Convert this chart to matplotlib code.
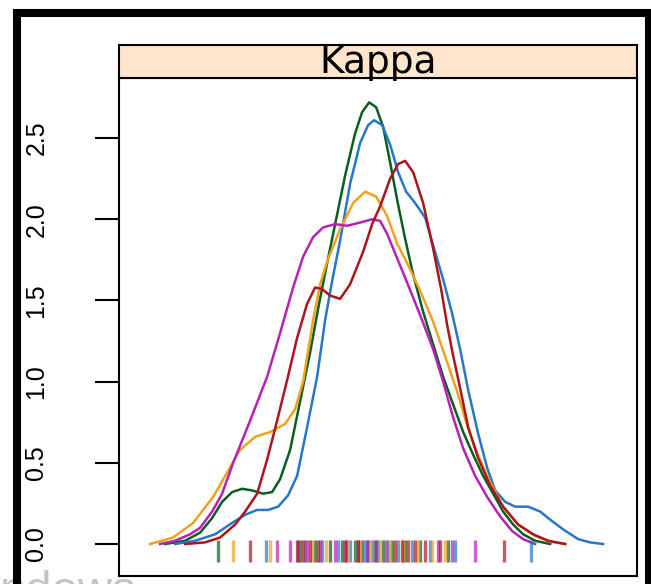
import matplotlib
matplotlib.use("Agg")
import matplotlib.pyplot as plt
from matplotlib.patches import Rectangle

plt.rcParams["font.family"] = ["Liberation Sans", "DejaVu Sans"]

# density curves (kappa, density)
green_x = [0.165, 0.185, 0.200, 0.212, 0.222, 0.232, 0.242, 0.252, 0.263, 0.272,
           0.280, 0.290, 0.300, 0.310, 0.318, 0.326, 0.335, 0.345, 0.355, 0.362,
           0.369, 0.376, 0.383, 0.390, 0.397, 0.405, 0.413, 0.423, 0.433, 0.443,
           0.453, 0.463, 0.473, 0.483, 0.493, 0.503, 0.513, 0.523, 0.535, 0.550]
green_y = [0.0, 0.02, 0.07, 0.16, 0.26, 0.32, 0.34, 0.33, 0.31, 0.32,
           0.40, 0.58, 0.88, 1.18, 1.45, 1.70, 1.97, 2.27, 2.53, 2.66,
           2.72, 2.69, 2.57, 2.35, 2.12, 1.88, 1.66, 1.43, 1.23, 1.03,
           0.86, 0.69, 0.55, 0.42, 0.31, 0.20, 0.12, 0.06, 0.02, 0.0]

blue_x = [0.175, 0.195, 0.215, 0.232, 0.245, 0.257, 0.268, 0.278, 0.288, 0.297,
          0.307, 0.317, 0.325, 0.332, 0.340, 0.350, 0.360, 0.368, 0.374, 0.382,
          0.390, 0.398, 0.406, 0.415, 0.425, 0.433, 0.443, 0.452, 0.460, 0.468,
          0.478, 0.487, 0.495, 0.505, 0.515, 0.528, 0.540, 0.550, 0.563, 0.578,
          0.590, 0.603]
blue_y = [0.0, 0.02, 0.06, 0.13, 0.18, 0.21, 0.21, 0.23, 0.30, 0.42,
          0.72, 1.03, 1.38, 1.62, 1.87, 2.22, 2.47, 2.58, 2.61, 2.58,
          2.46, 2.29, 2.17, 2.10, 2.01, 1.84, 1.63, 1.42, 1.20, 0.95,
          0.68, 0.47, 0.33, 0.26, 0.23, 0.23, 0.20, 0.15, 0.09, 0.03,
          0.01, 0.0]

red_x = [0.185, 0.205, 0.220, 0.235, 0.245, 0.257, 0.267, 0.277, 0.287, 0.297,
         0.307, 0.315, 0.322, 0.330, 0.340, 0.350, 0.363, 0.372, 0.380, 0.390,
         0.398, 0.405, 0.413, 0.423, 0.433, 0.441, 0.447, 0.453, 0.460, 0.468,
         0.478, 0.490, 0.503, 0.518, 0.533, 0.548, 0.565]
red_y = [0.0, 0.01, 0.04, 0.12, 0.20, 0.31, 0.52, 0.76, 1.01, 1.27,
         1.48, 1.58, 1.57, 1.53, 1.51, 1.60, 1.80, 1.97, 2.08, 2.25,
         2.34, 2.36, 2.29, 2.10, 1.82, 1.57, 1.35, 1.16, 0.96, 0.72,
         0.53, 0.36, 0.23, 0.12, 0.06, 0.02, 0.0]

orange_x = [0.150, 0.173, 0.193, 0.213, 0.227, 0.240, 0.255, 0.270, 0.285, 0.295,
            0.303, 0.313, 0.320, 0.327, 0.340, 0.353, 0.365, 0.376, 0.387, 0.397,
            0.407, 0.420, 0.433, 0.447, 0.457, 0.467, 0.477, 0.490, 0.503, 0.518,
            0.535, 0.550, 0.565]
orange_y = [0.0, 0.04, 0.13, 0.29, 0.44, 0.58, 0.66, 0.69, 0.74, 0.83,
            1.00, 1.38, 1.60, 1.74, 1.94, 2.10, 2.17, 2.14, 2.02, 1.85,
            1.73, 1.56, 1.37, 1.12, 0.94, 0.73, 0.56, 0.38, 0.23, 0.12,
            0.05, 0.015, 0.0]

magenta_x = [0.160, 0.175, 0.190, 0.200, 0.212, 0.222, 0.233, 0.250, 0.267, 0.280,
             0.293, 0.303, 0.313, 0.323, 0.335, 0.347, 0.360, 0.372, 0.380, 0.387,
             0.395, 0.407, 0.420, 0.433, 0.443, 0.453, 0.463, 0.475, 0.487, 0.500,
             0.512, 0.523, 0.535]
magenta_y = [0.0, 0.02, 0.06, 0.10, 0.20, 0.31, 0.50, 0.76, 1.03, 1.30,
             1.58, 1.77, 1.89, 1.95, 1.97, 1.96, 1.98, 2.00, 1.99, 1.91,
             1.79, 1.61, 1.41, 1.20, 1.00, 0.78, 0.59, 0.42, 0.29, 0.17,
             0.08, 0.03, 0.0]

# observed kappa values (rug marks)
green_rug = [0.218, 0.300, 0.315, 0.330, 0.342, 0.355, 0.362, 0.368, 0.375,
             0.383, 0.392, 0.405, 0.420, 0.448]
blue_rug = [0.266, 0.305, 0.322, 0.338, 0.350, 0.365, 0.372, 0.378, 0.388,
            0.398, 0.412, 0.430, 0.455, 0.531]
red_rug = [0.250, 0.297, 0.303, 0.310, 0.318, 0.345, 0.358, 0.395, 0.402,
           0.408, 0.415, 0.425, 0.440, 0.504]
orange_rug = [0.233, 0.270, 0.312, 0.326, 0.348, 0.360, 0.370, 0.380, 0.390,
              0.403, 0.418, 0.432, 0.445]
magenta_rug = [0.277, 0.290, 0.298, 0.307, 0.320, 0.335, 0.346, 0.358, 0.367,
               0.376, 0.386, 0.438, 0.452, 0.475]

y_ticks = [0.0, 0.5, 1.0, 1.5, 2.0, 2.5]
y_labels = ["0.0", "0.5", "1.0", "1.5", "2.0", "2.5"]

series = [
    (green_x, green_y, green_rug, "#0b5e22"),
    (blue_x, blue_y, blue_rug, "#2677cc"),
    (orange_x, orange_y, orange_rug, "#f2a020"),
    (magenta_x, magenta_y, magenta_rug, "#b820b8"),
    (red_x, red_y, red_rug, "#aa161c"),
]

fig = plt.figure(figsize=(6.51, 5.84), dpi=100)

ax = fig.add_axes([0.183, 0.0137, 0.7957, 0.8527])
for xs, ys, rug, col in series:
    ax.plot(xs, ys, color=col, lw=1.8)
for xs, ys, rug, col in series:
    ax.plot(rug, [-0.04] * len(rug), ls="none", marker="|", ms=16, mew=2.4,
            color=col, alpha=0.7)
ax.set_xlim(0.119, 0.637)
ax.set_ylim(-0.197, 2.87)
ax.set_xticks([])
ax.set_yticks(y_ticks)
ax.set_yticklabels(y_labels, rotation=90, va="center")
ax.tick_params(axis="y", length=17, width=1.5, pad=34, labelsize=18)
for s in ax.spines.values():
    s.set_linewidth(1.5)

# strip on top of the panel
sax = fig.add_axes([0.183, 0.8664, 0.7957, 0.0565])
sax.set_facecolor("#ffe5cc")
sax.set_xticks([])
sax.set_yticks([])
for s in sax.spines.values():
    s.set_linewidth(1.5)
sax.text(0.5, 0.47, "Kappa", ha="center", va="center", fontsize=27,
         family="DejaVu Sans", transform=sax.transAxes)

# faint watermark at the bottom left
fig.text(0.0, -0.035, "ndows", fontsize=34, color="#c4c4c4", zorder=5)

# black window frame
fig.add_artist(Rectangle((17 / 651, -0.01), (649 - 17) / 651, 0.9777 + 0.01,
                         transform=fig.transFigure, fill=False,
                         edgecolor="black", lw=5.8, zorder=10))

fig.savefig("out.png", dpi=100)
